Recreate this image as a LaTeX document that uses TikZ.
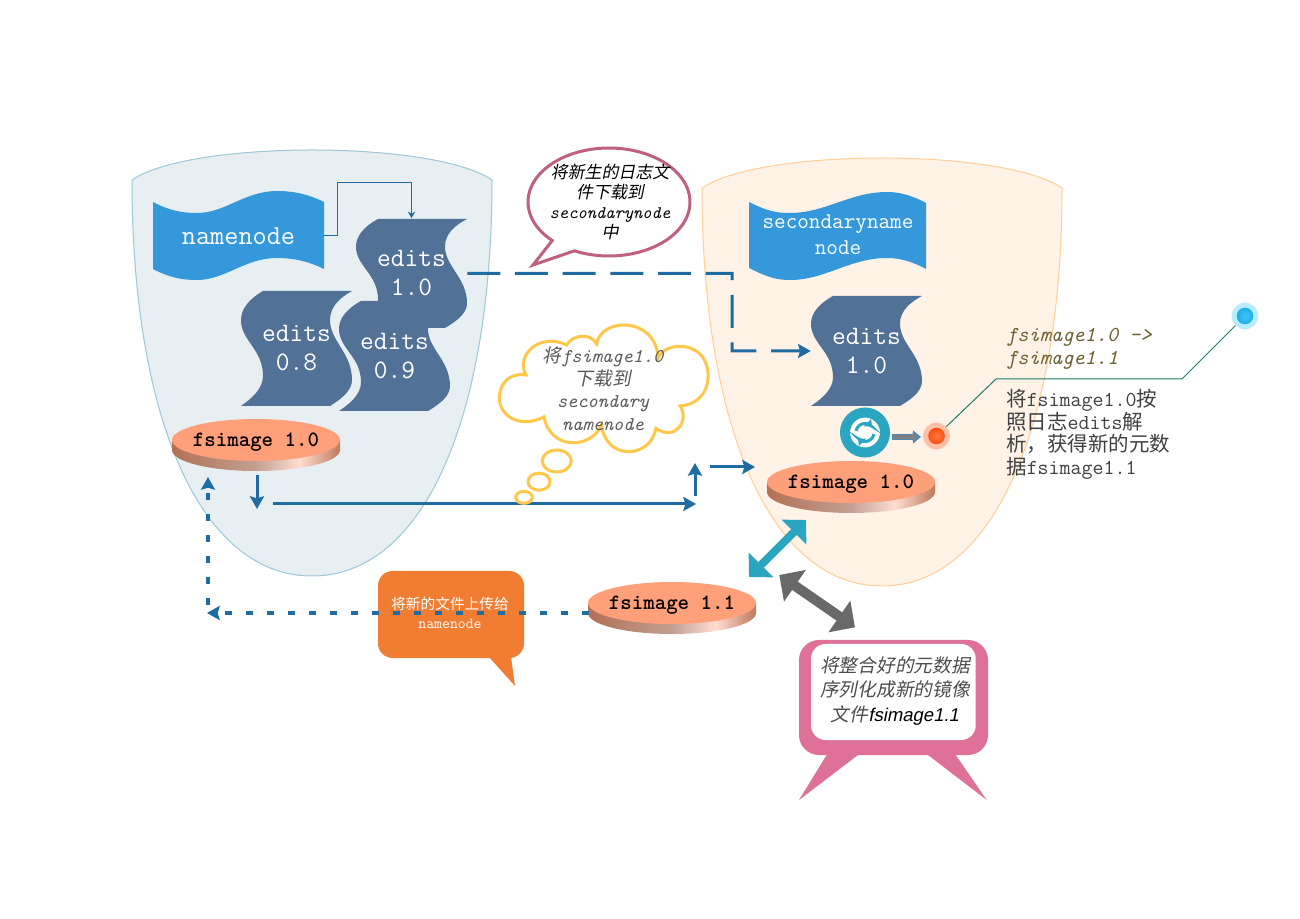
\documentclass[tikz,border=0pt]{standalone}
\usepackage{fontspec}
\renewcommand{\familydefault}{\ttdefault}
\newfontfamily\cjk[Scale=0.96]{Noto Sans CJK SC}
\newfontfamily\cjkit[Scale=0.96,FakeSlant=0.2]{Noto Sans CJK SC}
\newfontfamily\arialit[FakeSlant=0.2]{Liberation Sans}
\usetikzlibrary{arrows.meta}

\definecolor{shieldblue}{HTML}{E7EFF3}
\definecolor{shieldblueline}{HTML}{9CC8D8}
\definecolor{shieldorange}{HTML}{FFF2E6}
\definecolor{shieldorangeline}{HTML}{FFCF94}
\definecolor{wavecolor}{HTML}{3498DB}
\definecolor{editscolor}{HTML}{527196}
\definecolor{flowblue}{HTML}{1F6CA3}
\definecolor{diskcolor}{HTML}{FFA07A}
\definecolor{tealcolor}{HTML}{2AA6C0}
\definecolor{greycolor}{HTML}{696969}
\definecolor{pinkcolor}{HTML}{DF7199}
\definecolor{bubblecolor}{HTML}{C06080}
\definecolor{cloudcolor}{HTML}{FFC84A}
\definecolor{calloutcolor}{HTML}{F07D32}
\definecolor{leadcolor}{HTML}{1B7F6B}
\definecolor{olivetext}{HTML}{6B6030}
\definecolor{redcore}{HTML}{FF7A3C}
\definecolor{redrim}{HTML}{FF4E14}
\definecolor{redring}{HTML}{FFC0A8}
\definecolor{bluecore}{HTML}{45C4F5}
\definecolor{bluerim}{HTML}{1CAEEC}
\definecolor{bluering}{HTML}{B8ECFF}

\pgfdeclarehorizontalshading{diskshade}{100bp}{color(0bp)=(diskcolor!70!black);color(25bp)=(diskcolor!70!black);color(50bp)=(diskcolor!60!black!60!white);color(63bp)=(diskcolor!35!white);color(75bp)=(diskcolor!75!black);color(100bp)=(diskcolor!75!black)}

\tikzset{
	shieldleft/.style={draw=shieldblueline,fill=shieldblue,line width=0.75pt},
	shieldright/.style={draw=shieldorangeline,fill=shieldorange,line width=0.75pt},
	waveshape/.style={fill=wavecolor},
	editsshape/.style={fill=editscolor},
	wavetext/.style={text=white,align=center,inner sep=0pt,minimum width=128.25pt,minimum height=45pt},
	editstext/.style={text=white,align=center,inner sep=0pt,minimum width=83.25pt,minimum height=82.5pt,font=\fontsize{20}{21.75}\selectfont},
	disktext/.style={inner sep=0pt,minimum width=126pt,minimum height=31.5pt,font=\fontsize{16.4}{17}\selectfont\bfseries},
	flow/.style={draw=flowblue,line width=2.25pt,-{Stealth[length=9.5pt,width=10.5pt,inset=1.5pt]}},
	flowdash/.style={flow,dash pattern=on 24.75pt off 11pt},
	flowdot/.style={flow,line width=2.5pt,dash pattern=on 5pt off 10.75pt},
	flowthin/.style={draw=flowblue,line width=0.75pt,-{Stealth[length=5pt,width=5.5pt]}},
	tealarrow/.style={draw=tealcolor,line width=6pt,{Triangle[length=12.75pt,width=25.5pt]}-{Triangle[length=12.75pt,width=25.5pt]}},
	greyarrow/.style={draw=greycolor,line width=7.5pt,{Triangle[length=14.25pt,width=28pt]}-{Triangle[length=14.25pt,width=28pt]}},
	dotring/.style={circle,inner sep=0pt,minimum size=20pt},
	spinarc/.style={draw=tealcolor,line width=2.2pt,-{Triangle[length=4.5pt,width=7.5pt]}},
}

\newcommand{\zh}[1]{{\cjk #1}}
\newcommand{\zhi}[1]{{\cjkit #1}}

\newcommand{\editsbox}[5]{
	\begin{scope}[shift={(#2,#3)},yscale=#4/115]
		\fill[editsshape] (22,0) -- (111,0) .. controls (100,6) and (89,15) .. (89,29) .. controls (89,50) and (111,62) .. (111,89) .. controls (111,100) and (100,108) .. (89,115) -- (0,115) .. controls (10,108) and (22,98) .. (22,85) .. controls (22,58) and (0,50) .. (0,29) .. controls (0,18) and (8,8) .. (22,0) -- cycle;
		\node[editstext] (#1) at (55.5,57.5) {#5};
	\end{scope}
}

\newcommand{\fsdisk}[4]{
	\begin{scope}[shift={(#2,#3)}]
		\shade[shading=diskshade] (-84,0) -- (-84,10) .. controls (-84,21.6) and (-46.4,31) .. (0,31) .. controls (46.4,31) and (84,21.6) .. (84,10) -- (84,0) -- cycle;
		\fill[diskcolor] (0,0) ellipse[x radius=84,y radius=21];
		\node[disktext] (#1) at (0,2) {#4};
	\end{scope}
}

\begin{document}
\begin{tikzpicture}[x=0.75pt,y=-0.75pt]
	\useasboundingbox[fill=white] (0,0) rectangle (1300,919);

	\draw[shieldleft] (132,180) .. controls (190,140) and (434,140) .. (492,180) .. controls (492,415) and (425,576) .. (312,576) .. controls (199,576) and (132,415) .. (132,180) -- cycle;
	\draw[shieldright] (702,188) .. controls (760,148) and (1004,148) .. (1062,188) .. controls (1062,423) and (995,586) .. (882,586) .. controls (769,586) and (702,423) .. (702,188) -- cycle;

	\fill[waveshape] (153,202) .. controls (170,211) and (183,213) .. (197,213) .. controls (225,213) and (245,191) .. (277,191) .. controls (295,191) and (310,195) .. (324,202) -- (324,269) .. controls (310,262) and (295,258) .. (277,258) .. controls (245,258) and (225,280) .. (197,280) .. controls (183,280) and (170,278) .. (153,269) -- cycle;
	\node[wavetext,font=\fontsize{20.6}{21}\selectfont] (namenode) at (238.5,236) {namenode};

	\editsbox{editsa}{241}{291}{115}{edits\\0.8}
	\editsbox{editsc}{356}{219}{109}{edits\\1.0}
	\editsbox{editsb}{339}{301}{110}{edits\\0.9}

	\fill[waveshape] (749,202) .. controls (767,211) and (776,213) .. (790,213) .. controls (825,213) and (850,192) .. (887,192) .. controls (902,192) and (915,197) .. (926,203) -- (926,269) .. controls (915,263) and (902,258) .. (887,258) .. controls (850,258) and (825,280) .. (790,280) .. controls (776,280) and (767,277) .. (749,268) -- cycle;
	\node[wavetext,minimum width=132pt,font=\fontsize{16.9}{19.5}\selectfont] (secondary) at (838,235) {secondaryname\\node};

	\editsbox{editsd}{811}{296}{110}{edits\\1.0}

	\fsdisk{fsimagea}{256}{440}{fsimage 1.0}
	\fsdisk{fsimageb}{851}{482}{fsimage 1.0}
	\fsdisk{fsimagec}{672}{603}{fsimage 1.1}

	\coordinate (downend) at (257,509);
	\coordinate (longstart) at (273,504);
	\coordinate (longend) at (696,504);
	\coordinate (upstart) at (695,496);
	\coordinate (upend) at (695,463);
	\coordinate (shortstart) at (710,467);
	\coordinate (shortend) at (755,467);
	\coordinate (turna) at (337,236);
	\coordinate (turnb) at (337,183);
	\coordinate (turnc) at (411.5,183);
	\coordinate (dashb) at (732,273.5);
	\coordinate (dashc) at (732,351);
	\coordinate (dotstart) at (589,613);
	\coordinate (dotend) at (207,613);
	\coordinate (dotupstart) at (208,605);
	\coordinate (dotupend) at (208,477);
	\coordinate (tealfrom) at (749,577);
	\coordinate (tealto) at (806,520);
	\coordinate (greyfrom) at (779.3,575);
	\coordinate (greyto) at (855,627.3);
	\coordinate (spinfrom) at (892,437);
	\coordinate (spinto) at (921,437);
	\coordinate (spinend) at (918,437);

	\draw[flowthin] (namenode.east) -- (turna) -- (turnb) -- (turnc) -- (editsc.north);
	\draw[flowdash] (editsc.east) -- (dashb) -- (dashc) -- (editsd.west);
	\draw[flow] ([xshift=0.75pt,yshift=-9pt]fsimagea.south) -- (downend);
	\draw[flow] (longstart) -- (longend);
	\draw[flow] (upstart) -- (upend);
	\draw[flow] (shortstart) -- (shortend);

	\fill[calloutcolor,rounded corners=11pt] (378,571) -- (524,571) -- (524,658) -- (378,658) -- cycle;
	\fill[calloutcolor] (489,657) -- (515,686) -- (511,657) -- cycle;
	\node[text=white,align=center,inner sep=0pt,font=\fontsize{11.5}{14}\selectfont] (uploadtext) at (450,613) {\zh{将新的文件上传给}\\namenode};

	\draw[flowdot] (dotstart) -- (dotend);
	\draw[flowdot] (dotupstart) -- (dotupend);

	\draw[tealarrow] (tealfrom) -- (tealto);
	\draw[greyarrow] (greyfrom) -- (greyto);

	\draw[draw=bubblecolor,fill=white,line width=2.25pt,line join=miter] plot[domain=134.5:475.3,samples=90] ({609+81*cos(\x)},{202+54*sin(\x)}) -- (533,265) -- cycle;
	\node[align=center,inner sep=0pt,font=\fontsize{13.25}{15}\selectfont\itshape] (bubbletext) at (610,202) {\zhi{将新生的日志文}\\\zhi{件下载到}\\secondarynode\\\zhi{中}};

	\draw[draw=cloudcolor,fill=white,line width=2.25pt] (544,416.7) .. controls (520,430) and (495,415) .. (500,392) .. controls (503,378) and (515,373) .. (526,375) .. controls (515,355) and (540,332) .. (566.7,345) .. controls (572,335) and (590,332) .. (596.7,344) .. controls (600,318) and (655,315) .. (658.3,358) .. controls (665,340) and (710,340) .. (708,378) .. controls (707,395) and (695,405) .. (680,406) .. controls (690,420) and (675,442) .. (656,428.3) .. controls (650,460) and (605,460) .. (601.7,425) .. controls (590,450) and (550,450) .. (544,416.7) -- cycle;
	\draw[draw=cloudcolor,fill=white,line width=2.25pt] (556.7,461) ellipse[x radius=14.5,y radius=11];
	\draw[draw=cloudcolor,fill=white,line width=2.25pt] (539,481.7) ellipse[x radius=11,y radius=8.5];
	\draw[draw=cloudcolor,fill=white,line width=2.25pt] (524,497.3) ellipse[x radius=8.3,y radius=6];
	\node[text=black!65,align=center,inner sep=0pt,font=\fontsize{14.6}{16.9}\selectfont\itshape] (cloudtext) at (603,388.5) {\zhi{将}fsimage1.0\\\zhi{下载到}\\secondary\\namenode};

	\node[circle,draw=tealcolor,fill=white,line width=7.5pt,inner sep=0pt,minimum size=30pt] (refresh) at (865,432.5) {};
	\draw[spinarc] plot[domain=190:320,samples=12] ({865+9*cos(\x)},{432.5+9*sin(\x)});
	\draw[spinarc] plot[domain=10:140,samples=12] ({865+9*cos(\x)},{432.5+9*sin(\x)});

	\node[dotring,fill=redring] (reddot) at (936.5,436) {};
	\shade[inner color=redcore,outer color=redrim] (936.5,436) circle[radius=8.3];
	\node[dotring,fill=bluering] (bluedot) at (1245,316) {};
	\shade[inner color=bluecore,outer color=bluerim] (1245,316) circle[radius=8.3];

	\draw[draw=flowblue!80!white,line width=4pt,-{Triangle[length=6pt,width=9.5pt]}] (spinfrom) -- (spinto);
	\draw[draw=greycolor!85!white,line width=2.8pt,-{Triangle[length=4pt,width=6.5pt]}] ([xshift=0.6pt]spinfrom) -- (spinend);

	\coordinate (elbowa) at (996,379);
	\coordinate (elbowb) at (1182,379);
	\draw[draw=leadcolor,line width=0.75pt] (reddot) -- (elbowa) -- (elbowb) -- (bluedot);

	\node[anchor=north west,text=olivetext,align=left,inner sep=0pt,font=\fontsize{16}{17.25}\selectfont\itshape] (notetop) at (1006,328) {fsimage1.0 ->\\fsimage1.1};
	\node[anchor=north west,text=black!75,align=left,inner sep=0pt,font=\fontsize{16}{17}\selectfont] (notebottom) at (1006,389) {\zh{将}fsimage1.0\zh{按}\\\zh{照日志}edits\zh{解}\\\zh{析，获得新的元数}\\\zh{据}fsimage1.1};

	\fill[pinkcolor] (827.3,754) -- (799,800) -- (859.3,754) -- cycle;
	\fill[pinkcolor] (926.7,754) -- (986.7,800) -- (955,754) -- cycle;
	\fill[pinkcolor,rounded corners=15pt] (799,640) -- (988,640) -- (988,755) -- (799,755) -- cycle;
	\fill[white,rounded corners=11pt] (811,644) -- (975.7,644) -- (975.7,740) -- (811,740) -- cycle;
	\node[align=center,text=black!70,inner sep=0pt,font=\fontsize{14.6}{18.5}\selectfont] (boxtext) at (895,691) {\zhi{将整合好的元数据}\\\zhi{序列化成新的镜像}\\\zhi{文件}{\arialit\fontsize{13.9}{18.5}\selectfont\color{black}fsimage1.1}};
\end{tikzpicture}
\end{document}
